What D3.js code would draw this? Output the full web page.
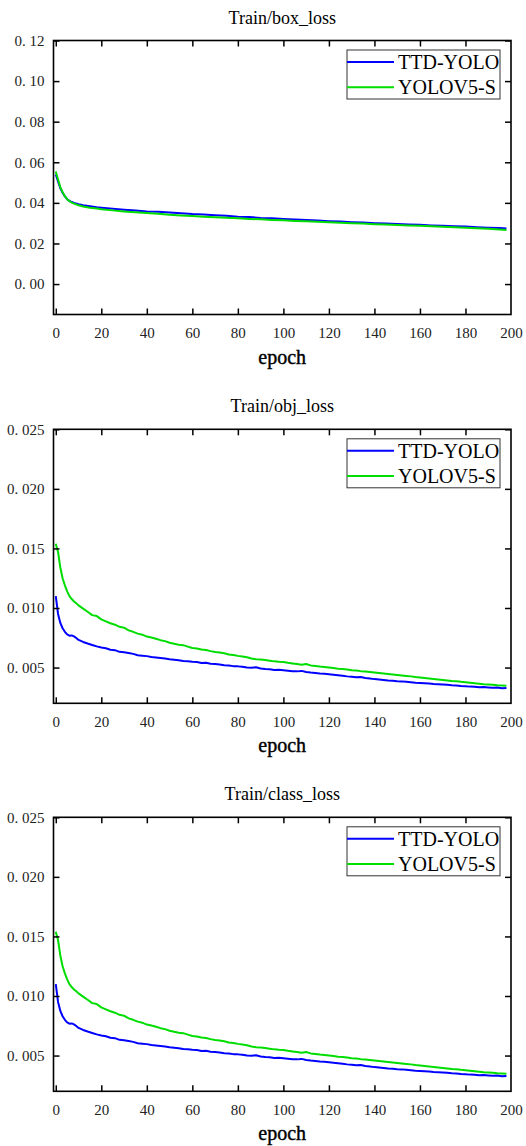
<!DOCTYPE html>
<html>
<head>
<meta charset="utf-8">
<script src="https://cdn.jsdelivr.net/npm/d3@7"></script>
<style>
  body { margin: 0; background: #fff; }
  svg { display: block; }
</style>
</head>
<body>
<svg id="chart" width="526" height="1146"></svg>
<script>
// ---- data ----
var seriesNames = ["TTD-YOLO", "YOLOV5-S"];
var seriesColors = ["#0000ff", "#00dd00"];
var panelTitles = ["Train/box_loss", "Train/obj_loss", "Train/class_loss"];
var xTicks = [0, 20, 40, 60, 80, 100, 120, 140, 160, 180, 200];
var boxTicks = [0, 0.02, 0.04, 0.06, 0.08, 0.10, 0.12];
var objTicks = [0.005, 0.010, 0.015, 0.020, 0.025];

var boxEpochs = [0, 1, 2, 3, 4, 5, 6, 7, 8, 10, 12, 15, 18, 20, 25, 30, 35, 40, 45, 50,
  55, 60, 65, 70, 75, 80, 85, 90, 95, 100, 105, 110, 115, 120, 125, 130, 135, 140, 145, 150,
  155, 160, 165, 170, 175, 180, 185, 190, 195, 198];
var boxTTD = [0.0540, 0.0505, 0.0472, 0.0450, 0.0432, 0.0418, 0.0410, 0.0404, 0.0400, 0.0393,
  0.0388, 0.0383, 0.0378, 0.0376, 0.0371, 0.0366, 0.0362, 0.0358, 0.0356, 0.0352,
  0.0349, 0.0345, 0.0343, 0.0339, 0.0336, 0.0332, 0.0330, 0.0326, 0.0324, 0.0321,
  0.0318, 0.0315, 0.0313, 0.0310, 0.0308, 0.0305, 0.0303, 0.0300, 0.0298, 0.0296,
  0.0294, 0.0292, 0.0289, 0.0287, 0.0285, 0.0283, 0.0280, 0.0278, 0.0276, 0.0274];
var boxV5 = [0.0555, 0.0515, 0.0478, 0.0452, 0.0433, 0.0418, 0.0408, 0.0401, 0.0396, 0.0388,
  0.0382, 0.0376, 0.0372, 0.0369, 0.0363, 0.0358, 0.0354, 0.0350, 0.0346, 0.0341,
  0.0338, 0.0335, 0.0332, 0.0329, 0.0327, 0.0324, 0.0321, 0.0319, 0.0316, 0.0314,
  0.0311, 0.0309, 0.0307, 0.0305, 0.0302, 0.0300, 0.0298, 0.0295, 0.0293, 0.0291,
  0.0289, 0.0287, 0.0285, 0.0282, 0.0280, 0.0278, 0.0275, 0.0272, 0.0269, 0.0266];

var objEpochs = [0, 1, 2, 3, 4, 5, 6, 7, 8, 9, 10, 12, 14, 16, 18, 20, 22, 24, 26, 28,
  30, 32, 34, 36, 38, 40, 42, 44, 46, 48, 50, 52, 54, 56, 58, 60, 62, 64, 66, 68,
  70, 72, 74, 76, 78, 80, 82, 84, 86, 88, 90, 92, 94, 96, 98, 100, 102, 104, 106, 108,
  110, 112, 114, 116, 118, 120, 122, 124, 126, 128, 130, 132, 134, 136, 138, 140, 142, 144, 146, 148,
  150, 152, 154, 156, 158, 160, 162, 164, 166, 168, 170, 172, 174, 176, 178, 180, 182, 184, 186, 188,
  190, 192, 194, 196, 198];
var objTTD = [0.01100, 0.00950, 0.00875, 0.00830, 0.00800, 0.00778, 0.00768, 0.00770, 0.00762, 0.00748,
  0.00732, 0.00715, 0.00702, 0.00690, 0.00678, 0.00668, 0.00662, 0.00650, 0.00646, 0.00632,
  0.00628, 0.00622, 0.00615, 0.00604, 0.00600, 0.00596, 0.00588, 0.00584, 0.00580, 0.00576,
  0.00570, 0.00566, 0.00562, 0.00555, 0.00552, 0.00548, 0.00546, 0.00538, 0.00540, 0.00532,
  0.00530, 0.00526, 0.00520, 0.00518, 0.00512, 0.00510, 0.00506, 0.00500, 0.00498, 0.00502,
  0.00492, 0.00488, 0.00486, 0.00480, 0.00482, 0.00478, 0.00474, 0.00470, 0.00468, 0.00472,
  0.00462, 0.00458, 0.00455, 0.00450, 0.00448, 0.00444, 0.00440, 0.00436, 0.00432, 0.00426,
  0.00422, 0.00418, 0.00420, 0.00412, 0.00408, 0.00403, 0.00400, 0.00396, 0.00392, 0.00390,
  0.00386, 0.00384, 0.00380, 0.00376, 0.00372, 0.00370, 0.00368, 0.00366, 0.00362, 0.00360,
  0.00358, 0.00356, 0.00352, 0.00350, 0.00346, 0.00343, 0.00340, 0.00338, 0.00334, 0.00336,
  0.00333, 0.00330, 0.00332, 0.00326, 0.00328];
var objV5 = [0.01540, 0.01470, 0.01340, 0.01250, 0.01190, 0.01140, 0.01100, 0.01075, 0.01055, 0.01040,
  0.01022, 0.00995, 0.00968, 0.00940, 0.00932, 0.00905, 0.00888, 0.00872, 0.00860, 0.00842,
  0.00835, 0.00812, 0.00800, 0.00785, 0.00776, 0.00760, 0.00752, 0.00742, 0.00730, 0.00722,
  0.00708, 0.00700, 0.00692, 0.00688, 0.00676, 0.00664, 0.00660, 0.00652, 0.00648, 0.00638,
  0.00630, 0.00626, 0.00620, 0.00610, 0.00606, 0.00598, 0.00592, 0.00586, 0.00576, 0.00570,
  0.00568, 0.00564, 0.00558, 0.00552, 0.00548, 0.00546, 0.00540, 0.00535, 0.00530, 0.00524,
  0.00530, 0.00518, 0.00514, 0.00508, 0.00504, 0.00500, 0.00496, 0.00490, 0.00488, 0.00484,
  0.00478, 0.00476, 0.00470, 0.00466, 0.00462, 0.00458, 0.00454, 0.00450, 0.00446, 0.00442,
  0.00438, 0.00434, 0.00430, 0.00426, 0.00420, 0.00416, 0.00412, 0.00408, 0.00404, 0.00400,
  0.00396, 0.00392, 0.00388, 0.00386, 0.00380, 0.00376, 0.00372, 0.00368, 0.00364, 0.00360,
  0.00358, 0.00356, 0.00352, 0.00350, 0.00348];

// class_loss panel shows the same curves as obj_loss in the figure
var classEpochs = objEpochs;
var classTTD = objTTD;
var classV5 = objV5;

// ---- layout ----
var serif = "'Liberation Serif', 'Times New Roman', serif";
var svg = d3.select("#chart");
var left = 53.5, right = 511;
var panelTops = [40.5, 429.3, 817.3];
var panelHeight = 274;
var tickLen = 6;

var x = d3.scaleLinear().domain([-1, 200]).range([left, right]);

function fmtTick(decimals) {
    var f = d3.format("." + decimals + "f");
    return function(d) { return f(d).replace(".", ". "); };
}

function drawPanel(top, title, yDomain, yTicks, decimals, epochs, series) {
    var bottom = top + panelHeight;
    var y = d3.scaleLinear().domain(yDomain).range([bottom, top]);
    var g = svg.append("g");

    // title
    g.append("text")
        .attr("x", (left + right) / 2)
        .attr("y", top - 17)
        .attr("text-anchor", "middle")
        .style("font-family", serif)
        .style("font-size", "18px")
        .text(title);

    // lines
    var line = d3.line()
        .x(function(d) { return x(d[0]); })
        .y(function(d) { return y(d[1]); });

    series.forEach(function(vals, i) {
        g.append("path")
            .datum(epochs.map(function(e, k) { return [e, vals[k]]; }))
            .attr("fill", "none")
            .attr("stroke", seriesColors[i])
            .attr("stroke-width", 2)
            .attr("stroke-linejoin", "round")
            .attr("d", line);
    });

    // axes, ticks pointing inward on every side
    var xb = g.append("g").attr("transform", "translate(0," + bottom + ")")
        .call(d3.axisBottom(x).tickValues(xTicks).tickSizeInner(-tickLen).tickSizeOuter(0).tickPadding(13));
    var xt = g.append("g").attr("transform", "translate(0," + top + ")")
        .call(d3.axisTop(x).tickValues(xTicks).tickSizeInner(-tickLen).tickSizeOuter(0).tickFormat(""));
    var yl = g.append("g").attr("transform", "translate(" + left + ",0)")
        .call(d3.axisLeft(y).tickValues(yTicks).tickSizeInner(-tickLen).tickSizeOuter(0).tickPadding(9)
            .tickFormat(fmtTick(decimals)));
    var yr = g.append("g").attr("transform", "translate(" + right + ",0)")
        .call(d3.axisRight(y).tickValues(yTicks).tickSizeInner(-tickLen).tickSizeOuter(0).tickFormat(""));

    [xb, xt, yl, yr].forEach(function(a) {
        a.select(".domain").remove();
        a.selectAll(".tick line").attr("stroke", "#000").attr("stroke-width", 1.5);
        a.selectAll(".tick text")
            .style("font-family", serif)
            .style("font-size", "15px")
            .attr("fill", "#222");
    });
    xb.selectAll(".tick").filter(function(d) { return d > 199; }).select("line").remove();
    xt.selectAll(".tick").filter(function(d) { return d > 199; }).remove();

    // frame
    g.append("rect")
        .attr("x", left).attr("y", top)
        .attr("width", right - left).attr("height", panelHeight)
        .attr("fill", "none").attr("stroke", "#000").attr("stroke-width", 1.6);

    // axis label
    g.append("text")
        .attr("x", (left + right) / 2)
        .attr("y", bottom + 49)
        .attr("text-anchor", "middle")
        .style("font-family", serif)
        .style("font-size", "20px")
        .style("stroke", "#000")
        .style("stroke-width", 0.4)
        .text("epoch");

    // legend
    var lg = g.append("g").attr("transform", "translate(" + (right - 164) + "," + (top + 9.5) + ")");
    lg.append("rect").attr("width", 153).attr("height", 49)
        .attr("fill", "#fff").attr("stroke", "#333").attr("stroke-width", 1);
    seriesNames.forEach(function(name, i) {
        var ly = 12 + i * 25.3;
        lg.append("line").attr("x1", 0).attr("x2", 47).attr("y1", ly).attr("y2", ly)
            .attr("stroke", seriesColors[i]).attr("stroke-width", 2);
        lg.append("text").attr("x", 51).attr("y", ly + 7)
            .style("font-family", serif)
            .style("font-size", "20px").text(name);
    });
}

drawPanel(panelTops[0], panelTitles[0], [-0.015, 0.12], boxTicks, 2, boxEpochs, [boxTTD, boxV5]);
drawPanel(panelTops[1], panelTitles[1], [0.002, 0.025], objTicks, 3, objEpochs, [objTTD, objV5]);
drawPanel(panelTops[2], panelTitles[2], [0.002, 0.025], objTicks, 3, classEpochs, [classTTD, classV5]);
</script>
</body>
</html>
